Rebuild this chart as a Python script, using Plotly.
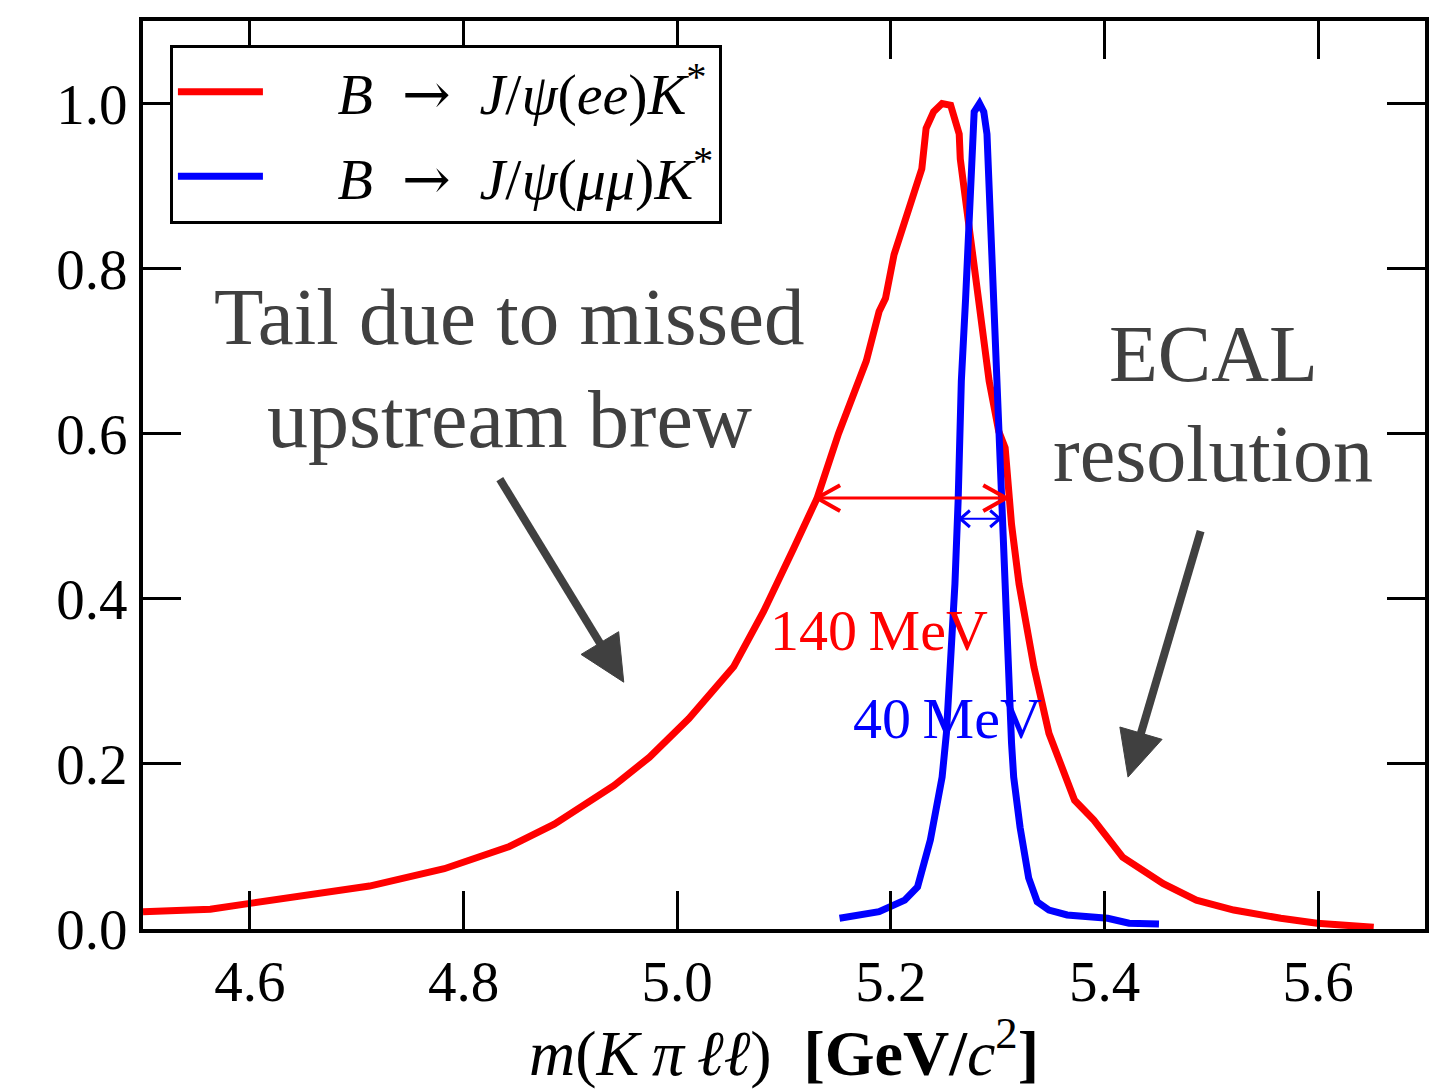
import math
import plotly.graph_objects as go

# ---- data ----
ee_x = [4.500, 4.563, 4.600, 4.647, 4.712, 4.782, 4.843, 4.885, 4.941, 4.974,
        5.011, 5.053, 5.070, 5.081, 5.109, 5.131, 5.151, 5.177, 5.189, 5.195,
        5.203, 5.214, 5.223, 5.229, 5.233, 5.240, 5.248, 5.256, 5.264, 5.265,
        5.271, 5.282, 5.292, 5.301, 5.307, 5.313, 5.320, 5.334, 5.348, 5.372,
        5.390, 5.417, 5.455, 5.486, 5.521, 5.565, 5.599, 5.652]
ee_y = [0.021, 0.024, 0.031, 0.039, 0.052, 0.073, 0.100, 0.127, 0.174, 0.208,
        0.255, 0.318, 0.357, 0.385, 0.461, 0.522, 0.600, 0.688, 0.748, 0.764,
        0.817, 0.861, 0.897, 0.921, 0.970, 0.990, 1.000, 0.998, 0.963, 0.933,
        0.873, 0.764, 0.664, 0.603, 0.583, 0.490, 0.418, 0.317, 0.237, 0.156,
        0.132, 0.087, 0.055, 0.035, 0.023, 0.013, 0.007, 0.002]

mm_x = [5.152, 5.189, 5.213, 5.225, 5.237, 5.248, 5.252, 5.256, 5.260, 5.263,
        5.264, 5.266, 5.270, 5.273, 5.276, 5.278, 5.283, 5.287, 5.290, 5.293,
        5.295, 5.298, 5.301, 5.303, 5.307, 5.310, 5.313, 5.315, 5.321, 5.329,
        5.337, 5.348, 5.365, 5.403, 5.423, 5.451]
mm_y = [0.013, 0.021, 0.035, 0.051, 0.108, 0.184, 0.237, 0.317, 0.418, 0.519,
        0.563, 0.664, 0.764, 0.866, 0.963, 0.990, 1.000, 0.990, 0.963, 0.866,
        0.764, 0.664, 0.563, 0.519, 0.398, 0.289, 0.225, 0.184, 0.123, 0.062,
        0.033, 0.023, 0.017, 0.013, 0.007, 0.006]

# FWHM markers (x start, x end, y level)
ee_fwhm = (5.131, 5.308, 0.522)
mm_fwhm = (5.265, 5.302, 0.497)

# pointer arrows: (tail x, tail y, head x, head y)
tail_arrow = (4.834, 0.545, 4.950, 0.299)
ecal_arrow = (5.490, 0.482, 5.422, 0.184)

x_ticks = [4.6, 4.8, 5.0, 5.2, 5.4, 5.6]
y_ticks = [0.0, 0.2, 0.4, 0.6, 0.8, 1.0]

X_RANGE = [4.5, 5.7]
Y_RANGE = [0, 1.1]

RED = "#ff0000"
BLUE = "#0000ff"
GRAY = "#404040"
SERIF = "Liberation Serif, DejaVu Serif, serif"

W, H = 1437, 1081
M = dict(l=135, r=20, t=9, b=160)
SX = (W - M["l"] - M["r"]) / (X_RANGE[1] - X_RANGE[0])
SY = (H - M["t"] - M["b"]) / (Y_RANGE[1] - Y_RANGE[0])

ARROW = "<span style='font-family:DejaVu Serif'>→</span>"

fig = go.Figure()
fig.add_trace(go.Scatter(
    x=ee_x, y=ee_y, mode="lines", line=dict(color=RED, width=7),
    name=f"\u2003\u2009<i>B</i>\u2002{ARROW}\u2002<i>J</i>/<i>ψ</i>(<i>ee</i>)<i>K</i><sup>*</sup>",
    legendgroup="ee"))
fig.add_trace(go.Scatter(
    x=mm_x, y=mm_y, mode="lines", line=dict(color=BLUE, width=7),
    name=f"\u2003\u2009<i>B</i>\u2002{ARROW}\u2002<i>J</i>/<i>ψ</i>(<i>μμ</i>)<i>K</i><sup>*</sup>",
    legendgroup="mm"))


def fwhm_arrow(x0, x1, y, color, adx, ady, w):
    shapes = [dict(type="line", x0=x0, x1=x1, y0=y, y1=y, xref="x", yref="y",
                   line=dict(color=color, width=w))]
    p = (f"M {x0+adx},{y+ady} L {x0},{y} L {x0+adx},{y-ady} "
         f"M {x1-adx},{y+ady} L {x1},{y} L {x1-adx},{y-ady}")
    shapes.append(dict(type="path", path=p, xref="x", yref="y",
                       line=dict(color=color, width=w + 1)))
    return shapes


def pointer_arrow(xt, yt, xh, yh, color, width=8, head_len=46, head_w=44):
    dx, dy = (xh - xt) * SX, (yh - yt) * SY
    L = math.hypot(dx, dy)
    ux, uy = dx / L, dy / L
    bx, by = xh - ux * head_len / SX, yh - uy * head_len / SY
    px, py = -uy * head_w / 2, ux * head_w / 2
    p1 = (bx + px / SX, by + py / SY)
    p2 = (bx - px / SX, by - py / SY)
    shaft_end = (xh - ux * (head_len - 4) / SX, yh - uy * (head_len - 4) / SY)
    return [
        dict(type="line", x0=xt, y0=yt, x1=shaft_end[0], y1=shaft_end[1],
             xref="x", yref="y", line=dict(color=color, width=width)),
        dict(type="path", xref="x", yref="y",
             path=f"M {xh},{yh} L {p1[0]},{p1[1]} L {p2[0]},{p2[1]} Z",
             fillcolor=color, line=dict(color=color, width=1)),
    ]


shapes = fwhm_arrow(*ee_fwhm, RED, 0.0215, 0.0157, 3)
shapes += fwhm_arrow(*mm_fwhm, BLUE, 0.009, 0.010, 2)
shapes += pointer_arrow(*tail_arrow, GRAY)
shapes += pointer_arrow(*ecal_arrow, GRAY)

annotations = [
    dict(x=5.189, y=0.362, text="140\u2009MeV", showarrow=False,
         font=dict(family=SERIF, size=58, color=RED)),
    dict(x=5.253, y=0.255, text="40\u2009MeV", showarrow=False,
         font=dict(family=SERIF, size=58, color=BLUE)),
    dict(x=4.843, y=0.742, text="Tail due to missed", showarrow=False,
         font=dict(family=SERIF, size=81, color=GRAY)),
    dict(x=4.843, y=0.617, text="upstream brew", showarrow=False,
         font=dict(family=SERIF, size=82, color=GRAY)),
    dict(x=5.502, y=0.697, text="ECAL", showarrow=False,
         font=dict(family=SERIF, size=80, color=GRAY)),
    dict(x=5.502, y=0.576, text="resolution", showarrow=False,
         font=dict(family=SERIF, size=80, color=GRAY)),
]

axis_common = dict(
    showline=True, linecolor="black", linewidth=4, mirror="ticks",
    ticks="inside", ticklen=38, tickwidth=3, tickcolor="black",
    showgrid=False, zeroline=False,
    tickfont=dict(family=SERIF, size=57, color="black"),
)

fig.update_layout(
    width=W, height=H,
    margin=M,
    paper_bgcolor="white", plot_bgcolor="white",
    shapes=shapes, annotations=annotations,
    xaxis=dict(range=X_RANGE, tickvals=x_ticks,
               ticktext=[f"{v:.1f}" for v in x_ticks],
               title=dict(text="<i>m</i>(<i>K</i>\u2009<i>π</i>\u2009<i>ℓℓ</i>)\u2002<b>[GeV/</b><i>c</i><sup>2</sup><b>]</b>",
                          font=dict(family=SERIF, size=64, color="black"),
                          standoff=14),
               **axis_common),
    yaxis=dict(range=Y_RANGE, tickvals=y_ticks,
               ticktext=[f"{v:.1f}" for v in y_ticks],
               **axis_common),
    legend=dict(x=0.021, y=0.974, xanchor="left", yanchor="top",
                bordercolor="black", borderwidth=3, bgcolor="white",
                font=dict(family=SERIF, size=58, color="black"),
                itemwidth=85, tracegroupgap=6),
    showlegend=True,
)

fig.write_html("out.html")
